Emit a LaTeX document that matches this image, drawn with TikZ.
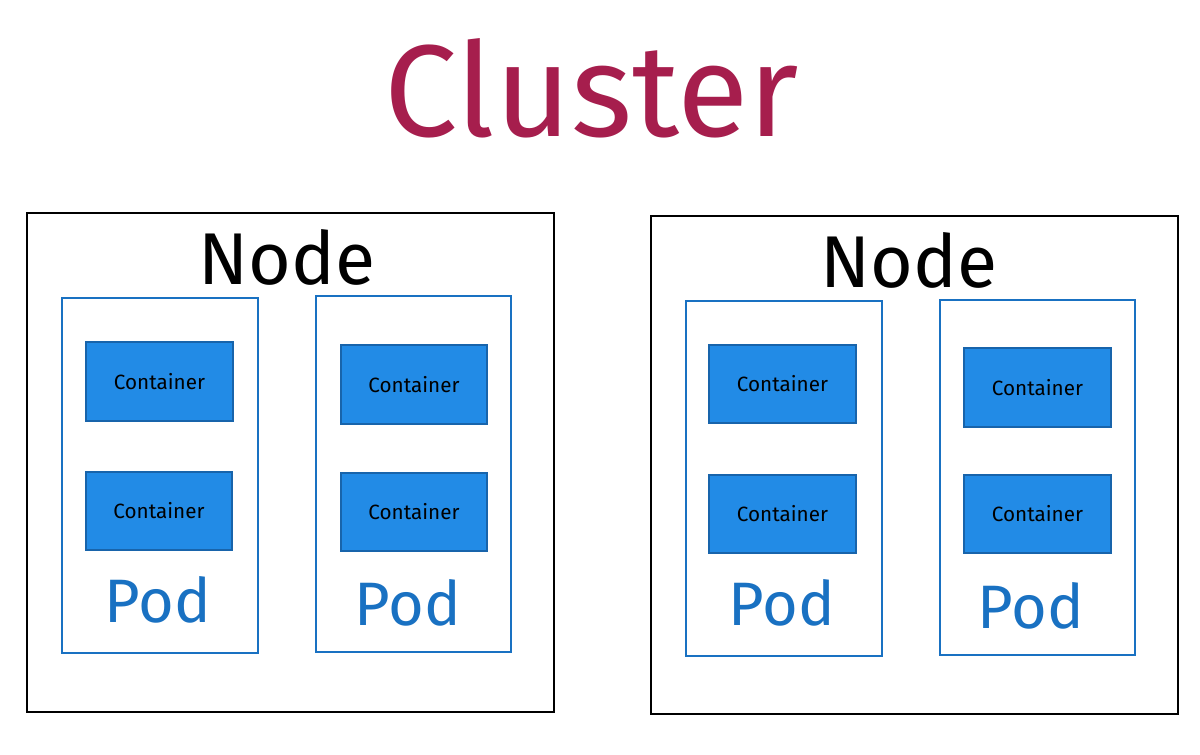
\documentclass[tikz,border=0pt]{standalone}
\usepackage{fontspec}
\setmainfont{Fira Sans}
\definecolor{clu}{HTML}{A61E4D}
\definecolor{podc}{HTML}{1971C2}
\definecolor{cfill}{HTML}{228BE6}
\definecolor{cdraw}{HTML}{1864AB}
\begin{document}
\begin{tikzpicture}[x=0.75pt,y=-0.75pt,
  knode/.style={draw=black,line width=1pt},
  pod/.style={draw=podc,line width=1.2pt},
  ctr/.style={draw=cdraw,fill=cfill,line width=1.5pt},
  ctrtext/.style={font=\fontsize{15.5}{17}\selectfont,text=black},
  podtext/.style={font=\fontsize{46}{50}\selectfont,text=podc},
  nodetext/.style={font=\fontsize{55}{60}\selectfont,text=black}]
\useasboundingbox[fill=white] (0,0) rectangle (1200,754);
\node[font=\fontsize{98}{105}\selectfont,text=clu] (title) at (592,88) {Cluster};
% left node
\draw[knode] (27,213) rectangle (554,712);
\node[nodetext] (n1) at (287,257) {Node};
\draw[pod] (62,298) rectangle (258,653);
\draw[pod] (316,296) rectangle (511,652);
\draw[ctr] (86,342) rectangle node[ctrtext] (c1) {Container} (233,421);
\draw[ctr] (86,472) rectangle node[ctrtext] (c2) {Container} (232,550);
\draw[ctr] (341,345) rectangle node[ctrtext] (c3) {Container} (487,424);
\draw[ctr] (341,473) rectangle node[ctrtext] (c4) {Container} (487,551);
\node[podtext] (p1) at (158,600) {Pod};
\node[podtext] (p2) at (408,603) {Pod};
% right node
\draw[knode] (651,216) rectangle (1178,714);
\node[nodetext] (n2) at (909,260) {Node};
\draw[pod] (686,301) rectangle (882,656);
\draw[pod] (940,300) rectangle (1135,655);
\draw[ctr] (709,345) rectangle node[ctrtext] (c5) {Container} (856,423);
\draw[ctr] (709,475) rectangle node[ctrtext] (c6) {Container} (856,553);
\draw[ctr] (964,348) rectangle node[ctrtext] (c7) {Container} (1111,427);
\draw[ctr] (964,475) rectangle node[ctrtext] (c8) {Container} (1111,553);
\node[podtext] (p3) at (782,603) {Pod};
\node[podtext] (p4) at (1031,606) {Pod};
\end{tikzpicture}
\end{document}
